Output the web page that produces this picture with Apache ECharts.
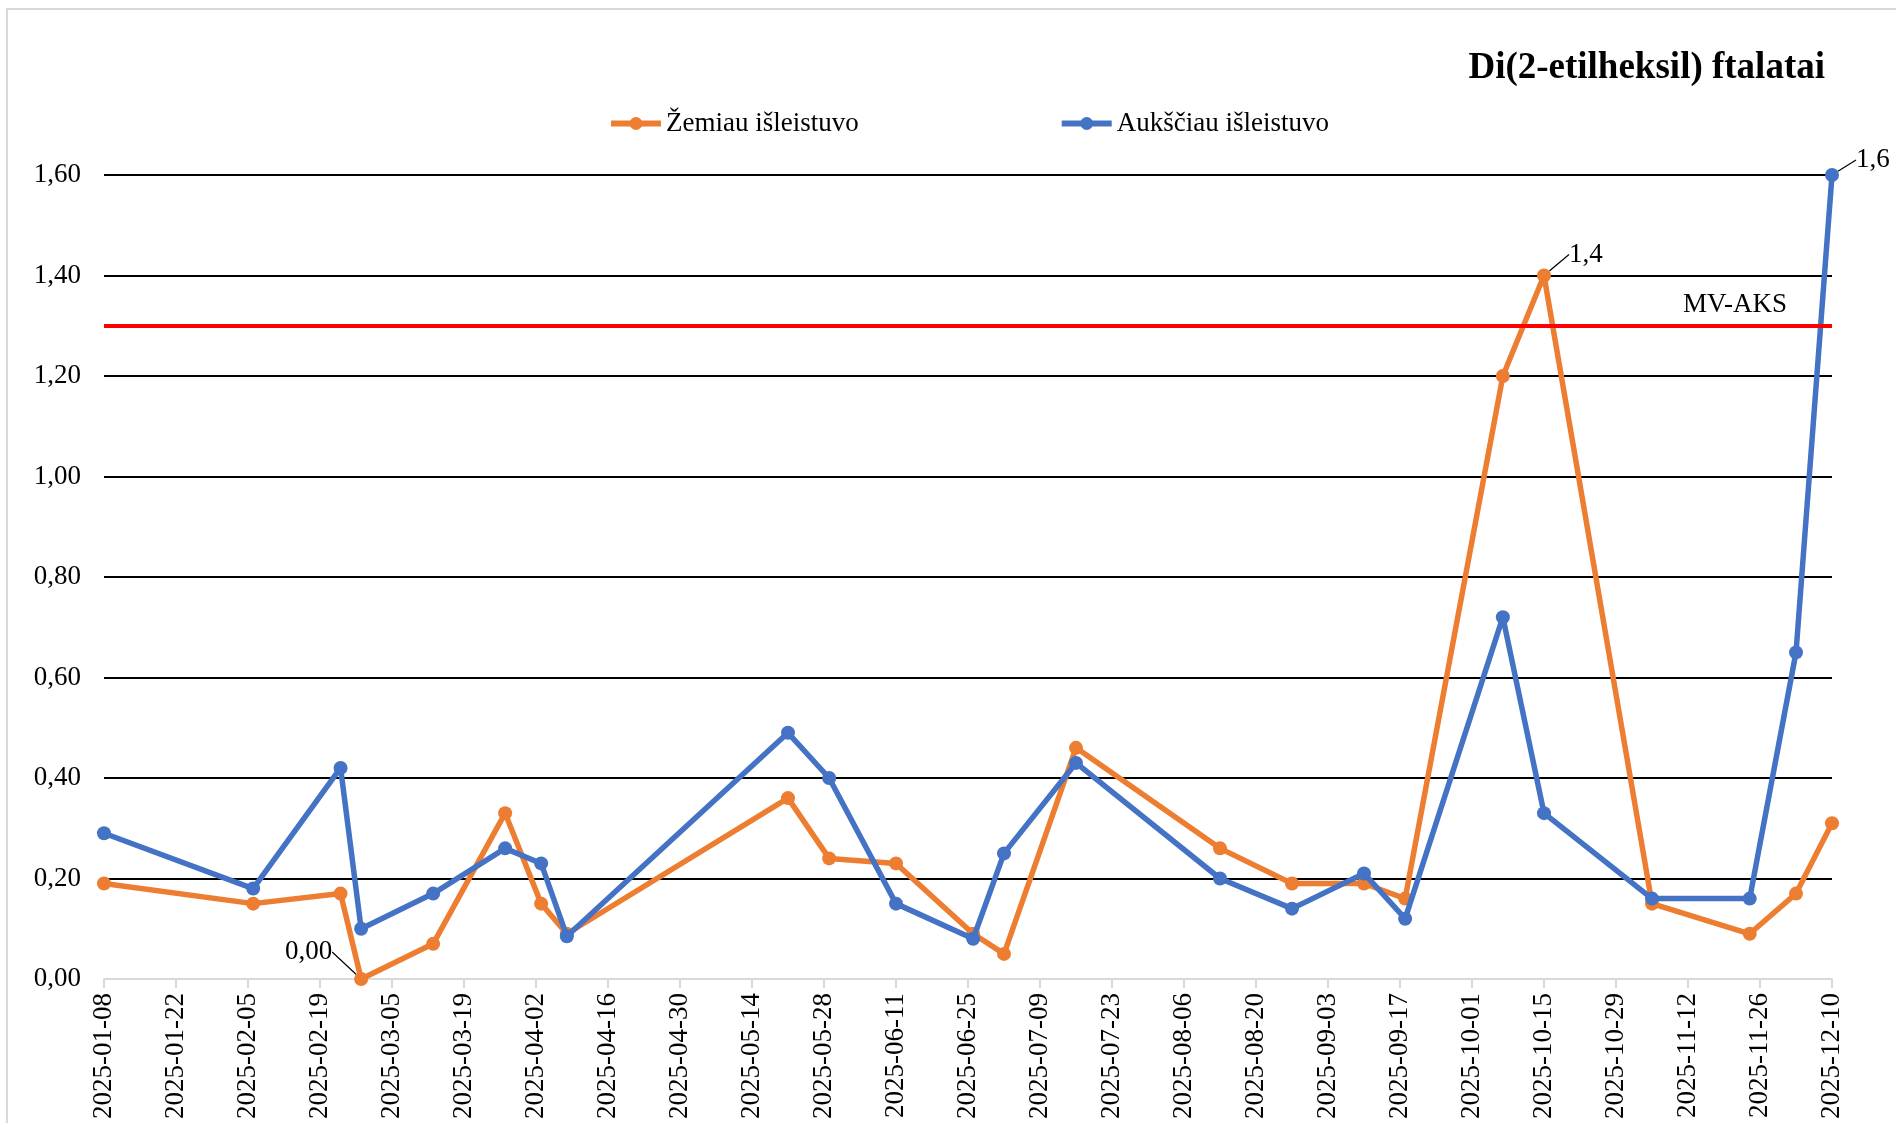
<html>
<head>
<meta charset="UTF-8">
<script src="https://cdn.jsdelivr.net/npm/echarts@6/dist/echarts.min.js"></script>
<style>
    html, body { margin: 0; padding: 0; background: #fff; }
    #chart { width: 1896px; height: 1123px; }
</style>
</head>
<body>
<div id="chart"></div>
<script>
    // sample dates (same for both series)
    var sampleDates = ['2025-01-08', '2025-02-06', '2025-02-23', '2025-02-27', '2025-03-13', '2025-03-27',
        '2025-04-03', '2025-04-08', '2025-05-21', '2025-05-29', '2025-06-11', '2025-06-26',
        '2025-07-02', '2025-07-16', '2025-08-13', '2025-08-27', '2025-09-10', '2025-09-18',
        '2025-10-07', '2025-10-15', '2025-11-05', '2025-11-24', '2025-12-03', '2025-12-10'];
    // Žemiau išleistuvo
    var belowValues = [0.19, 0.15, 0.17, 0.00, 0.07, 0.33, 0.15, 0.09, 0.36, 0.24, 0.23, 0.09,
        0.05, 0.46, 0.26, 0.19, 0.19, 0.16, 1.20, 1.40, 0.15, 0.09, 0.17, 0.31];
    // Aukščiau išleistuvo
    var aboveValues = [0.29, 0.18, 0.42, 0.10, 0.17, 0.26, 0.23, 0.085, 0.49, 0.40, 0.15, 0.08,
        0.25, 0.43, 0.20, 0.14, 0.21, 0.12, 0.72, 0.33, 0.16, 0.16, 0.65, 1.60];
    var seriesNames = ['Žemiau išleistuvo', 'Aukščiau išleistuvo'];
    var limitValue = 1.3;          // MV-AKS
    var limitName = 'MV-AKS';
    var axisStart = '2025-01-08';
    var axisEnd = '2025-12-10';
    var tickDays = 14;
    // which points carry a value label (by index)
    var belowLabelled = [3, 19];
    var aboveLabelled = [23];

    var FONT = 'Liberation Serif';
    var FS = 27;
    var DAY = 86400000;

    function toTime(s) { return new Date(s + 'T00:00:00Z').getTime(); }
    function pad(n) { return n < 10 ? '0' + n : '' + n; }
    function fmtDate(v) {
        var d = new Date(v);
        return d.getUTCFullYear() + '-' + pad(d.getUTCMonth() + 1) + '-' + pad(d.getUTCDate());
    }
    function comma(v, digits) { return v.toFixed(digits).replace('.', ','); }

    function buildData(values, labelled) {
        var out = [];
        for (var i = 0; i < values.length; i++) {
            var item = { value: [toTime(sampleDates[i]), values[i]] };
            if (labelled.indexOf(i) >= 0) {
                var digits = values[i] === 0 ? 2 : 1;
                item.label = {
                    show: true,
                    position: values[i] === 0 ? 'left' : 'right',
                    formatter: comma(values[i], digits),
                    fontFamily: FONT, fontSize: FS, color: '#000'
                };
                item.labelLine = { show: true, lineStyle: { color: '#000', width: 1.2 } };
            }
            out.push(item);
        }
        return out;
    }

    // label offsets: "seriesIndex-dataIndex"
    var labelShift = {
        '1-3': { dx: -17, dy: -27 },
        '1-19': { dx: 13, dy: -21 },
        '2-23': { dx: 12, dy: -15 }
    };
    function layoutLabel(p) {
        var s = labelShift[p.seriesIndex + '-' + p.dataIndex];
        return s ? { dx: s.dx, dy: s.dy } : {};
    }

    var chart = echarts.init(document.getElementById('chart'));
    chart.setOption({
        animation: false,
        backgroundColor: '#fff',
        textStyle: { fontFamily: FONT },
        graphic: [{
            type: 'rect',
            shape: { x: 7, y: 9, width: 1900, height: 1200 },
            style: { fill: 'none', stroke: '#d9d9d9', lineWidth: 2 },
            silent: true
        }],
        title: {
            text: 'Di(2-etilheksil) ftalatai',
            right: 66,
            top: 45,
            textStyle: { fontFamily: FONT, fontSize: 37, fontWeight: 'bold', color: '#000' }
        },
        legend: {
            data: seriesNames,
            left: 603,
            top: 105,
            itemWidth: 50,
            itemHeight: 16,
            itemGap: 200,
            lineStyle: { width: 6 },
            textStyle: { fontFamily: FONT, fontSize: FS, color: '#000' }
        },
        grid: { left: 104, right: 64, top: 175, bottom: 144, containLabel: false },
        xAxis: {
            type: 'value',
            min: toTime(axisStart),
            max: toTime(axisEnd),
            interval: tickDays * DAY,
            axisLine: { show: true, lineStyle: { color: '#d9d9d9', width: 2 } },
            axisTick: { show: true, length: 9, lineStyle: { color: '#d9d9d9', width: 2 } },
            splitLine: { show: false },
            axisLabel: {
                rotate: 90,
                margin: 14,
                showMinLabel: true,
                showMaxLabel: true,
                fontFamily: FONT, fontSize: FS, color: '#000',
                formatter: fmtDate
            }
        },
        yAxis: {
            type: 'value',
            min: 0,
            max: 1.6,
            interval: 0.2,
            axisLine: { show: false },
            axisTick: { show: false },
            splitLine: {
                show: true,
                lineStyle: {
                    color: ['rgba(0,0,0,0)', '#000', '#000', '#000', '#000', '#000', '#000', '#000', '#000'],
                    width: 2
                }
            },
            axisLabel: {
                margin: 23,
                fontFamily: FONT, fontSize: FS, color: '#000',
                formatter: function (v) { return comma(v, 2); }
            }
        },
        series: [
            {
                name: limitName,
                type: 'line',
                data: [],
                z: 1,
                silent: true,
                markLine: {
                    silent: true,
                    symbol: 'none',
                    lineStyle: { color: '#ff0000', width: 4, type: 'solid' },
                    label: {
                        show: true,
                        position: 'insideEndTop',
                        formatter: limitName,
                        fontFamily: FONT, fontSize: FS, color: '#000',
                        padding: [0, 40, 2, 0]
                    },
                    data: [{ yAxis: limitValue }]
                }
            },
            {
                name: seriesNames[0],
                type: 'line',
                z: 2,
                data: buildData(belowValues, belowLabelled),
                symbol: 'circle',
                symbolSize: 14,
                color: '#ED7D31',
                lineStyle: { width: 5.5, color: '#ED7D31' },
                itemStyle: { color: '#ED7D31' },
                labelLayout: layoutLabel
            },
            {
                name: seriesNames[1],
                type: 'line',
                z: 3,
                data: buildData(aboveValues, aboveLabelled),
                symbol: 'circle',
                symbolSize: 14,
                color: '#4472C4',
                lineStyle: { width: 5.5, color: '#4472C4' },
                itemStyle: { color: '#4472C4' },
                labelLayout: layoutLabel
            }
        ]
    });
</script>
</body>
</html>
